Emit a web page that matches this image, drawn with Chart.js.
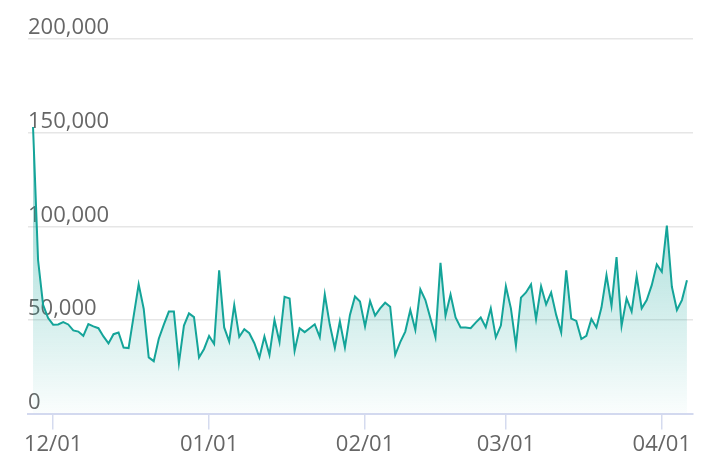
<!DOCTYPE html>
<html>
<head>
<meta charset="utf-8">
<script src="https://cdn.jsdelivr.net/npm/chart.js@4/dist/chart.umd.min.js"></script>
<style>
  html, body { margin: 0; padding: 0; background: #fff; }
  #wrap { width: 718px; height: 474px; position: relative; }
</style>
</head>
<body>
<div id="wrap"><canvas id="salesChart"></canvas></div>
<script>
// Data: one value per day, starting at startDate
const startDate = "2022-11-27";
const values = [
  153000, 82000, 58000, 51000, 47500, 47600, 48800, 47600, 44400, 43800,
  41500, 47800, 46600, 45600, 41200, 37500, 42400, 43300, 35300, 35000,
  52000, 69000, 56000, 30000, 28000, 40000, 47500, 54500, 54500, 27000,
  47000, 53500, 51500, 30000, 34500, 41500, 37200, 76500, 46000, 38500,
  58000, 41000, 45000, 42900, 37600, 30000, 41200, 31400, 50000, 38200,
  62400, 61500, 33500, 45600, 43500, 45600, 47700, 40800, 63600, 47400,
  35000, 49200, 35300, 52700, 62500, 59800, 46500, 60100, 52300, 56200,
  59200, 57100, 31400, 38200, 43800, 55300, 44700, 66300, 60600, 50900,
  40800, 80500, 52300, 63600, 51300, 46000, 46000, 45600, 48600, 51300,
  46100, 56200, 40700, 47000, 68000, 56200, 36400, 61900, 64700, 69000,
  50400, 68000, 58300, 64700, 52700, 43300, 76500, 50700, 49500, 39800,
  41500, 50500, 46000, 56600, 73900, 57600, 83600, 46800, 61500, 54500,
  73400, 56200, 60600, 68600, 79600, 75700, 100400, 67700, 55300, 60600,
  71200,
];
const tickDates = ["2022-12-01", "2023-01-01", "2023-02-01", "2023-03-01", "2023-04-01"];
const tickLabels = ["12/01", "01/01", "02/01", "03/01", "04/01"];
const yTicks = [0, 50000, 100000, 150000, 200000];

// Utilities
const DAY = 86400000;
const dayNum = (s) => Math.round(Date.parse(s + "T00:00:00Z") / DAY);
const fmtNumber = (n) => n.toLocaleString("en-US");

const firstDay = dayNum(startDate);
const tickDays = tickDates.map(dayNum);
const points = values.map((v, i) => ({ x: firstDay + i, y: v }));

const LINE = "rgb(20,164,153)";
const AXIS_FONT = { family: "'Open Sans', sans-serif", size: 22 };

function fillGradient(context) {
  const { ctx, chartArea } = context.chart;
  if (!chartArea) return "rgba(20,164,153,0.2)";
  const g = ctx.createLinearGradient(0, chartArea.top, 0, chartArea.bottom);
  g.addColorStop(0, "rgba(20,164,153,0.65)");
  g.addColorStop(1, "rgba(20,164,153,0.02)");
  return g;
}

const ctx = document.getElementById("salesChart").getContext("2d");
new Chart(ctx, {
  type: "line",
  data: {
    datasets: [
      {
        data: points,
        borderColor: LINE,
        borderWidth: 2,
        backgroundColor: fillGradient,
        fill: "origin",
        tension: 0,
        pointRadius: 0,
      },
    ],
  },
  options: {
    responsive: true,
    maintainAspectRatio: false,
    animation: false,
    layout: { padding: { left: 28, right: 25, top: 39, bottom: 14 } },
    plugins: {
      legend: { display: false },
      tooltip: { enabled: false },
    },
    scales: {
      x: {
        type: "linear",
        min: firstDay - 1,
        max: tickDays[4] + 6.2,
        afterBuildTicks: (scale) => {
          scale.ticks = tickDays.map((v) => ({ value: v }));
        },
        ticks: {
          autoSkip: false,
          maxRotation: 0,
          padding: 2,
          color: "#666",
          font: AXIS_FONT,
          callback: (v) => tickLabels[tickDays.indexOf(v)] ?? "",
        },
        grid: {
          drawOnChartArea: false,
          drawTicks: true,
          tickLength: 16,
          color: "#d5dbef",
          lineWidth: 1.5,
        },
        border: { color: "#d3d9ef", width: 2 },
      },
      y: {
        min: 0,
        max: 200000,
        afterBuildTicks: (scale) => {
          scale.ticks = yTicks.map((v) => ({ value: v }));
        },
        ticks: {
          mirror: true,
          padding: 0,
          labelOffset: -11,
          color: "#666",
          font: AXIS_FONT,
          callback: (v) => fmtNumber(v),
        },
        grid: {
          drawTicks: false,
          color: "#e6e6e6",
          lineWidth: 1.5,
        },
        border: { display: false },
      },
    },
  },
});
</script>
</body>
</html>
